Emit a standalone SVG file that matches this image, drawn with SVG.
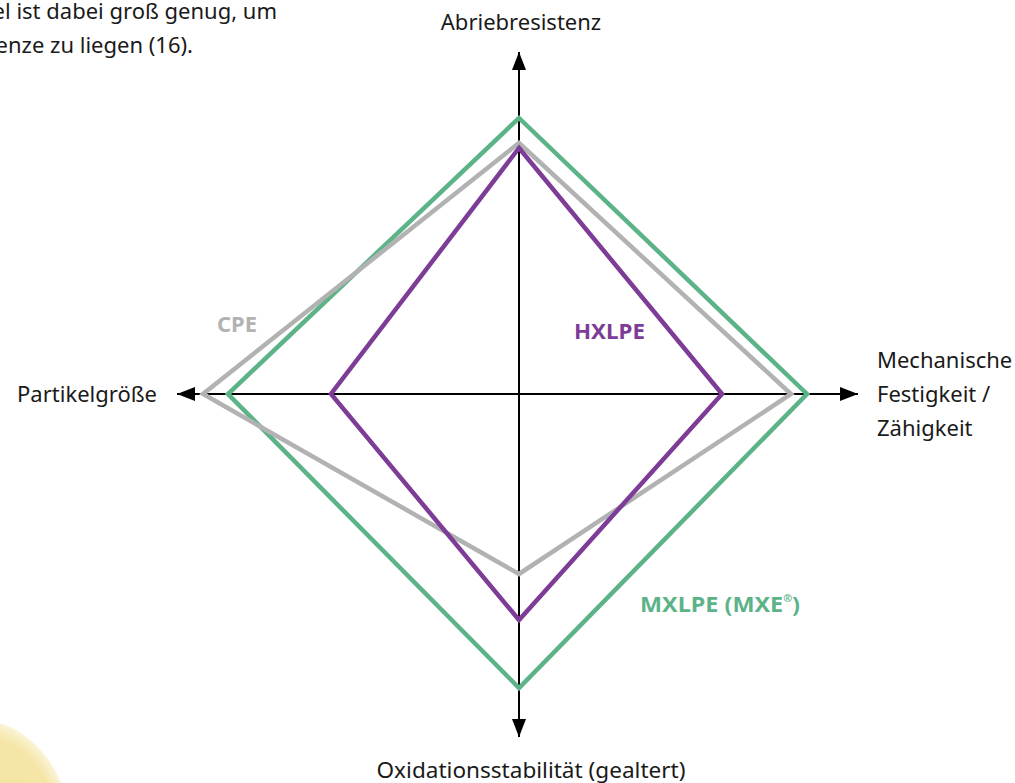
<svg xmlns="http://www.w3.org/2000/svg" width="1015" height="783" viewBox="0 0 1015 783">
<defs>
<radialGradient id="yel" cx="0.5" cy="0.5" r="0.5">
<stop offset="0" stop-color="#f3e39a"/>
<stop offset="0.88" stop-color="#f5e6a8"/>
<stop offset="1" stop-color="#fbf4d8"/>
</radialGradient>
<marker id="arr" viewBox="0 0 18 14" refX="18" refY="7" markerWidth="18" markerHeight="14" markerUnits="userSpaceOnUse" orient="auto">
<path d="M0,0 L18,7 L0,14 Z" fill="#000"/>
</marker>
</defs>
<style>
.t{font-family:"Noto Sans","DejaVu Sans",sans-serif;font-size:22px;fill:#1a1a1a}
.lb{font-family:"Noto Sans","DejaVu Sans",sans-serif;font-size:22px;font-weight:bold}
.ax{stroke:#000;stroke-width:2;fill:none;marker-end:url(#arr)}
.poly{fill:none;stroke-width:4.5;stroke-linejoin:miter}
</style>
<rect width="1015" height="783" fill="#fff"/>
<ellipse cx="-20" cy="850" rx="95" ry="130" fill="url(#yel)"/>
<g id="intro">
<text class="t" x="277" y="19" text-anchor="end">el ist dabei groß genug, um</text>
<text class="t" x="193" y="53" text-anchor="end">enze zu liegen (16).</text>
</g>
<g id="connectors">
<line class="ax" x1="519" y1="394" x2="519" y2="52"/>
<line class="ax" x1="519" y1="394" x2="519" y2="737"/>
<line class="ax" x1="519" y1="394" x2="177" y2="394"/>
<line class="ax" x1="519" y1="394" x2="858" y2="394"/>
</g>
<g id="mxlpe">
<polygon class="poly" stroke="#5db388" points="519,118 807,394 519,688 228,394"/>
<text class="lb" fill="#5db388" x="640" y="612" textLength="160" lengthAdjust="spacingAndGlyphs">MXLPE (MXE<tspan font-size="10" dy="-10">®</tspan><tspan dy="10">)</tspan></text>
</g>
<g id="cpe">
<polygon class="poly" stroke="#b2b2b2" points="519,143 791,394 519,574 203,394"/>
<text class="lb" fill="#b2b2b2" x="217" y="332">CPE</text>
</g>
<g id="hxlpe">
<polygon class="poly" stroke="#7d3c96" points="519,148 722,394 519,620 331,394"/>
<text class="lb" fill="#7d3c96" x="574" y="339" textLength="71" lengthAdjust="spacingAndGlyphs">HXLPE</text>
</g>
<g id="axis-top"><text class="t" x="521" y="30" text-anchor="middle">Abriebresistenz</text></g>
<g id="axis-left"><text class="t" x="157" y="402" text-anchor="end">Partikelgröße</text></g>
<g id="axis-right">
<text class="t" x="877" y="368">Mechanische</text>
<text class="t" x="877" y="402">Festigkeit /</text>
<text class="t" x="877" y="436">Zähigkeit</text>
</g>
<g id="axis-bottom"><text class="t" x="531" y="778" text-anchor="middle" textLength="309" lengthAdjust="spacingAndGlyphs">Oxidationsstabilität (gealtert)</text></g>
</svg>
